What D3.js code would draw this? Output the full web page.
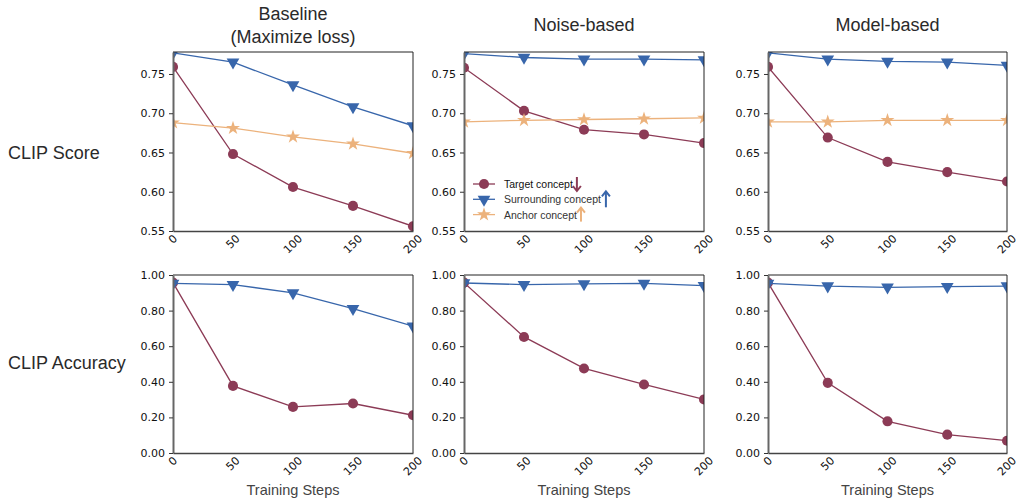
<!DOCTYPE html>
<html>
<head>
<meta charset="utf-8">
<script src="https://cdn.jsdelivr.net/npm/d3@7"></script>
<style>
  body { margin: 0; background: #fff; }
  svg { display: block; }
</style>
</head>
<body>
<div id="chart"></div>
<script>
// x positions (training steps)
var steps = [0, 50, 100, 150, 200];
var stepTicks = [0, 50, 100, 150, 200];

var methods = ["Baseline\n(Maximize loss)", "Noise-based", "Model-based"];
var rowLabels = ["CLIP Score", "CLIP Accuracy"];

var seriesNames = ["Target concept", "Surrounding concept", "Anchor concept"];
var seriesColors = ["#8c3b56", "#3866ab", "#ecb27c"];

// CLIP score (top row)
var scoreTarget = [
  [0.759, 0.648, 0.606, 0.582, 0.556],
  [0.758, 0.703, 0.679, 0.673, 0.662],
  [0.759, 0.669, 0.638, 0.625, 0.613]
];
var scoreSurround = [
  [0.777, 0.765, 0.736, 0.708, 0.684],
  [0.776, 0.771, 0.769, 0.769, 0.768],
  [0.777, 0.769, 0.766, 0.765, 0.761]
];
var scoreAnchor = [
  [0.688, 0.681, 0.670, 0.661, 0.649],
  [0.689, 0.691, 0.692, 0.693, 0.694],
  [0.689, 0.689, 0.691, 0.691, 0.691]
];
var scoreTicks = [0.55, 0.60, 0.65, 0.70, 0.75];

// CLIP accuracy (bottom row)
var accTarget = [
  [0.957, 0.377, 0.259, 0.278, 0.212],
  [0.957, 0.652, 0.475, 0.385, 0.301],
  [0.957, 0.394, 0.178, 0.103, 0.069]
];
var accSurround = [
  [0.953, 0.946, 0.900, 0.811, 0.713],
  [0.955, 0.946, 0.950, 0.953, 0.940],
  [0.953, 0.938, 0.931, 0.935, 0.938]
];
var accTicks = [0.0, 0.2, 0.4, 0.6, 0.8, 1.0];

var W = 1016, H = 504;
var colLeft = [173, 464, 768], colRight = [413, 704, 1007];
var rowTop = [52, 275], rowBottom = [231, 453];
var yDomains = [[0.55, 0.778], [0, 1.0]];

var svg = d3.select("#chart").append("svg")
  .attr("width", W).attr("height", H);

var titleFont = "'Liberation Sans', Arial, Helvetica, sans-serif";
var tickFont = "'DejaVu Sans', sans-serif";

var symCircle = d3.symbol().type(d3.symbolCircle).size(80);
var symTri = d3.symbol().type(d3.symbolTriangle).size(70);
var symStar = d3.symbol().type(d3.symbolStar).size(60);
var symbols = [symCircle, symTri, symStar];
var rotations = [0, 180, 0];

function drawPanel(r, c, seriesList) {
  var x = d3.scaleLinear().domain([0, 200]).range([colLeft[c], colRight[c]]);
  var y = d3.scaleLinear().domain(yDomains[r]).range([rowBottom[r], rowTop[r]]);
  var ticks = r == 0 ? scoreTicks : accTicks;
  var g = svg.append("g");

  var clipId = "clip" + r + c;
  svg.append("clipPath").attr("id", clipId)
    .append("rect")
    .attr("x", x(0)).attr("y", y(yDomains[r][1]))
    .attr("width", x(200) - x(0)).attr("height", y(yDomains[r][0]) - y(yDomains[r][1]));

  var plot = g.append("g").attr("clip-path", "url(#" + clipId + ")");
  var line = d3.line().x(function (d, i) { return x(steps[i]); }).y(function (d) { return y(d); });

  seriesList.forEach(function (vals, s) {
    plot.append("path")
      .attr("d", line(vals))
      .attr("fill", "none")
      .attr("stroke", seriesColors[s])
      .attr("stroke-width", 1.3);
    plot.selectAll(".m" + s)
      .data(vals)
      .enter().append("path")
      .attr("d", symbols[s])
      .attr("transform", function (d, i) {
        return "translate(" + x(steps[i]) + "," + y(d) + ") rotate(" + rotations[s] + ")";
      })
      .attr("fill", seriesColors[s]);
  });

  // spines
  g.append("line").attr("x1", x(0)).attr("x2", x(200)).attr("y1", y.range()[1]).attr("y2", y.range()[1])
    .attr("stroke", "#222").attr("stroke-width", 1);
  g.append("line").attr("x1", x(200)).attr("x2", x(200)).attr("y1", y.range()[0]).attr("y2", y.range()[1])
    .attr("stroke", "#222").attr("stroke-width", 1);

  var yAxis = g.append("g")
    .attr("transform", "translate(" + x(0) + ",0)")
    .call(d3.axisLeft(y).tickValues(ticks).tickFormat(d3.format(".2f")).tickSize(4).tickSizeOuter(0));
  yAxis.select(".domain").attr("stroke", "#666").attr("stroke-width", 2);
  yAxis.selectAll(".tick line").attr("stroke", "#333");
  yAxis.selectAll("text").attr("font-family", tickFont).attr("font-size", 11).attr("fill", "#111").attr("dx", "-1");

  var xAxis = g.append("g")
    .attr("transform", "translate(0," + y.range()[0] + ")")
    .call(d3.axisBottom(x).tickValues(stepTicks).tickSize(0).tickSizeOuter(0).tickFormat(""));
  xAxis.select(".domain").attr("stroke", "#444").attr("stroke-width", 1.6);

  // rotated tick labels, centred on the tick like matplotlib rotation=45
  stepTicks.forEach(function (t) {
    var lbl = String(t);
    var w = lbl.length * 7, h = 8;
    var cy = y.range()[0] + 3 + (w + h) * 0.354;
    g.append("text")
      .attr("x", x(t)).attr("y", cy)
      .attr("text-anchor", "middle")
      .attr("dominant-baseline", "central")
      .attr("transform", "rotate(-45," + x(t) + "," + cy + ")")
      .attr("font-family", tickFont).attr("font-size", 11).attr("fill", "#111")
      .text(lbl);
  });

  if (r == 1) {
    g.append("text")
      .attr("x", (x(0) + x(200)) / 2).attr("y", 495)
      .attr("text-anchor", "middle")
      .attr("font-family", titleFont).attr("font-size", 14.5).attr("fill", "#444")
      .text("Training Steps");
  }
}

for (var c = 0; c < 3; c++) {
  drawPanel(0, c, [scoreTarget[c], scoreSurround[c], scoreAnchor[c]]);
  drawPanel(1, c, [accTarget[c], accSurround[c]]);

  var lines = methods[c].split("\n");
  var cx = (colLeft[c] + colRight[c]) / 2;
  lines.forEach(function (t, i) {
    var yy = lines.length == 1 ? 31 : 20 + i * 23;
    svg.append("text")
      .attr("x", cx).attr("y", yy)
      .attr("text-anchor", "middle")
      .attr("font-family", titleFont).attr("font-size", 18).attr("fill", "#2a2a2a")
      .text(t);
  });
}

rowLabels.forEach(function (t, i) {
  svg.append("text")
    .attr("x", 8).attr("y", i == 0 ? 159 : 369)
    .attr("font-family", titleFont).attr("font-size", 18).attr("fill", "#2a2a2a")
    .text(t);
});

// legend inside the Noise-based score panel
var legend = svg.append("g").attr("transform", "translate(473,184)");
var arrowDir = [1, -1, -1];
seriesNames.forEach(function (name, i) {
  var row = legend.append("g").attr("transform", "translate(0," + (i * 15.3) + ")");
  row.append("line").attr("x1", 0).attr("x2", 22).attr("y1", 0).attr("y2", 0)
    .attr("stroke", seriesColors[i]).attr("stroke-width", 1.3);
  row.append("path").attr("d", symbols[i])
    .attr("transform", "translate(11,0) rotate(" + rotations[i] + ")")
    .attr("fill", seriesColors[i]);
  var txt = row.append("text").attr("x", 31).attr("y", 0)
    .attr("dominant-baseline", "central")
    .attr("font-family", titleFont).attr("font-size", 10.5)
    .attr("fill", i == 0 ? "#111" : "#333")
    .text(name);
  var ax = 31 + txt.node().getComputedTextLength() + (i == 1 ? 5 : 4);
  var dir = arrowDir[i];
  var len = i == 1 ? 16 : 14;
  var y0 = -len / 2 * dir, y1 = len / 2 * dir;
  row.append("line").attr("x1", ax).attr("x2", ax).attr("y1", y0).attr("y2", y1)
    .attr("stroke", seriesColors[i]).attr("stroke-width", 2);
  row.append("path")
    .attr("d", "M" + (ax - 4) + "," + (y1 - 5 * dir) + "L" + ax + "," + y1 + "L" + (ax + 4) + "," + (y1 - 5 * dir))
    .attr("fill", "none").attr("stroke", seriesColors[i]).attr("stroke-width", 2);
});
</script>
</body>
</html>
